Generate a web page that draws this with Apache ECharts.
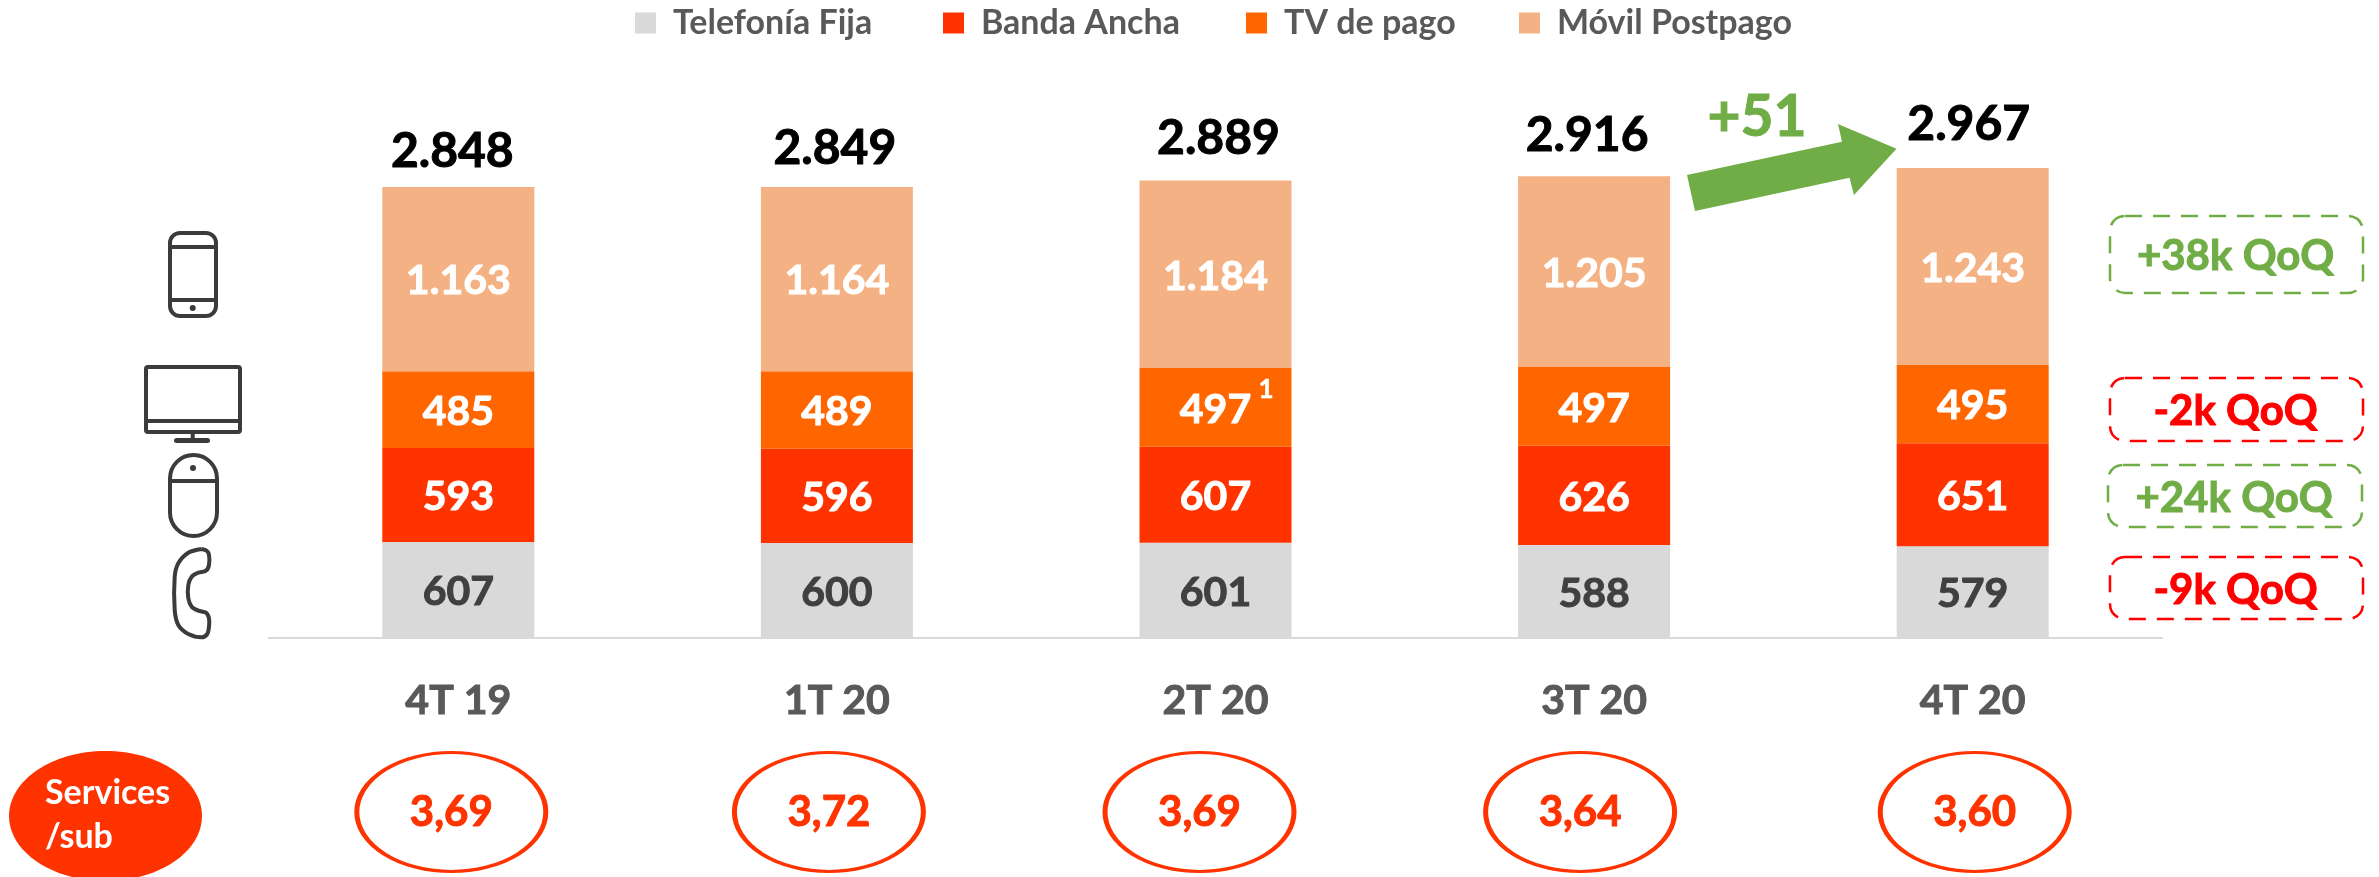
<!DOCTYPE html>
<html>
<head>
<meta charset="utf-8">
<style>
html, body { margin: 0; padding: 0; background: #fff; }
#main { width: 2379px; height: 877px; }
</style>
<script src="https://cdn.jsdelivr.net/npm/echarts@6/dist/echarts.min.js"></script>
</head>
<body>
<div id="main"></div>
<script>
var categories = ['4T 19', '1T 20', '2T 20', '3T 20', '4T 20'];
var legendNames = ['Telefonía Fija', 'Banda Ancha', 'TV de pago', 'Móvil Postpago'];
var fija = [607, 600, 601, 588, 579];
var banda = [593, 596, 607, 626, 651];
var tv = [485, 489, 497, 497, 495];
var movil = [1163, 1164, 1184, 1205, 1243];
var totals = [2848, 2849, 2889, 2916, 2967];
var servicesSub = [3.69, 3.72, 3.69, 3.64, 3.60];

// separador de miles con punto
function miles(v) {
    return String(v).replace(/\B(?=(\d{3})+$)/g, '.');
}

var font = 'Lato';
var iconColor = '#3b3b3b';
var green = '#70AD47';
var red = '#FF0000';
var orange = '#FF3300';
var legendLeft = [635, 943, 1246, 1519];
// desplazamiento de cada elipse respecto a su columna
var ellipseShift = [-7, -8, -16, -14, 2];
var totalOffset = [[-6, 2], [-2, 1], [3, 1], [-7, 1], [-4, 1]];
var totalLift = [13, 15, 19, 17, 20];

function barSeries(name, values, color, labelColor) {
    return {
        name: name,
        type: 'bar',
        stack: 'total',
        barWidth: 152,
        data: values,
        itemStyle: { color: color },
        label: {
            show: true,
            position: 'inside',
            offset: [0, 2],
            color: labelColor,
            textBorderColor: labelColor,
            textBorderWidth: 1,
            fontFamily: font,
            fontWeight: 'bold',
            fontSize: 41,
            formatter: function (p) { return miles(p.value); }
        },
        silent: true
    };
}

function qoqBox(x, y, w, h, text, color) {
    return [{
        type: 'rect',
        shape: { x: x, y: y, width: w, height: h, r: 15 },
        style: { fill: 'none', stroke: color, lineWidth: 2.5, lineDash: [17, 11] }
    }, {
        type: 'text',
        x: x + w / 2 - 1,
        y: y + h / 2 + 2,
        style: {
            text: text, fill: color, stroke: color, lineWidth: 1, font: 'bold 42px ' + font,
            textAlign: 'center', textVerticalAlign: 'middle'
        }
    }];
}

var icon = { fill: 'none', stroke: iconColor, lineWidth: 4 };
var iconFill = { fill: iconColor };
var graphics = [
    // movil
    { type: 'rect', shape: { x: 170, y: 233, width: 46, height: 83, r: 10 }, style: icon },
    { type: 'line', shape: { x1: 170, y1: 247, x2: 216, y2: 247 }, style: icon },
    { type: 'line', shape: { x1: 170, y1: 300, x2: 216, y2: 300 }, style: icon },
    { type: 'circle', shape: { cx: 192.7, cy: 308, r: 3 }, style: iconFill },
    // tele
    { type: 'rect', shape: { x: 146, y: 367, width: 94, height: 65, r: 2 }, style: icon },
    { type: 'line', shape: { x1: 146, y1: 421, x2: 240, y2: 421 }, style: icon },
    { type: 'line', shape: { x1: 192.7, y1: 432, x2: 192.7, y2: 440 }, style: icon },
    { type: 'rect', shape: { x: 174, y: 438, width: 36, height: 5, r: 2.5 }, style: iconFill },
    // raton
    { type: 'rect', shape: { x: 170, y: 455, width: 47, height: 81, r: 23.5 }, style: icon },
    { type: 'line', shape: { x1: 170, y1: 481, x2: 217, y2: 481 }, style: icon },
    { type: 'circle', shape: { cx: 193, cy: 468, r: 3 }, style: iconFill },
    // telefono
    {
        type: 'polyline',
        shape: {
            smooth: 0.3,
            points: [[201.7, 549], [188.3, 552.7], [178.3, 563.3], [174.7, 576.7], [174.7, 610], [178.3, 625],
                [188.3, 634], [201.7, 637.3], [207.3, 634], [209, 626.7], [209, 618.3], [206, 612.7], [198.3, 610.7],
                [191.7, 606.7], [188.3, 598.3], [188.3, 585], [191.7, 576.7], [198.3, 572.7], [206, 570.7],
                [209, 565], [209, 555], [206.7, 550.7], [201.7, 549]]
        },
        style: icon
    },
    // flecha +51
    {
        type: 'polygon',
        shape: { points: [[1687, 175], [1842, 141.7], [1838, 124], [1896.5, 148.7], [1854, 195], [1849.5, 177.7], [1695, 211]] },
        style: { fill: green }
    },
    {
        type: 'text', x: 1757, y: 118,
        style: { text: '+51', fill: green, stroke: green, lineWidth: 1, font: 'bold 57px ' + font, textAlign: 'center', textVerticalAlign: 'middle' }
    },
    // nota al pie del 497
    {
        type: 'text', x: 1266, y: 390, z: 100,
        style: { text: '1', fill: '#fff', stroke: '#fff', lineWidth: 0.5, font: 'bold 26px ' + font, textAlign: 'center', textVerticalAlign: 'middle' }
    },
    // Services/sub
    { type: 'ellipse', shape: { cx: 105.5, cy: 816, rx: 96.5, ry: 65 }, style: { fill: orange } },
    {
        type: 'text', x: 45, y: 793,
        style: { text: 'Services', fill: '#fff', font: 'bold 34px ' + font, textVerticalAlign: 'middle' }
    },
    {
        type: 'text', x: 45, y: 837,
        style: { text: '/sub', fill: '#fff', font: 'bold 34px ' + font, textVerticalAlign: 'middle' }
    }
].concat(
    qoqBox(2110, 216, 253, 77, '+38k QoQ', green),
    qoqBox(2110, 378, 253, 63, '-2k QoQ', red),
    qoqBox(2108, 465, 254, 62, '+24k QoQ', green),
    qoqBox(2110, 557, 253, 62, '-9k QoQ', red)
);

var myChart = echarts.init(document.getElementById('main'));
var option = {
    animation: false,
    backgroundColor: '#fff',
    // una leyenda por entrada para fijar cada posicion
    legend: legendNames.map(function (name, i) {
        return {
            left: legendLeft[i],
            top: 6,
            padding: 0,
            icon: 'rect',
            itemWidth: 21,
            itemHeight: 21,
            selectedMode: false,
            data: [name],
            textStyle: {
                color: '#595959', fontFamily: font, fontWeight: 'bold', fontSize: 34,
                padding: [0, 0, 0, 12]
            }
        };
    }),
    grid: [
        { left: 269, width: 1893, top: 163, height: 475 },
        { left: 269, width: 1893, top: 752, height: 120 }
    ],
    xAxis: [{
        type: 'category',
        gridIndex: 0,
        data: categories,
        axisTick: { show: false },
        axisLine: { lineStyle: { color: '#D9D9D9', width: 2 } },
        axisLabel: {
            interval: 0, margin: 42, color: '#595959',
            textBorderColor: '#595959', textBorderWidth: 1,
            fontFamily: font, fontWeight: 'bold', fontSize: 41
        }
    }, {
        type: 'category',
        gridIndex: 1,
        data: categories,
        show: false
    }],
    yAxis: [{
        type: 'value',
        gridIndex: 0,
        min: 0,
        max: 3000,
        show: false
    }, {
        type: 'category',
        gridIndex: 1,
        data: ['Services/sub'],
        show: false
    }],
    series: [
        barSeries(legendNames[0], fija, '#D9D9D9', '#404040'),
        barSeries(legendNames[1], banda, '#FF3300', '#fff'),
        barSeries(legendNames[2], tv, '#FF6600', '#fff'),
        barSeries(legendNames[3], movil, '#F4B183', '#fff'),
        {
            name: 'Total',
            type: 'scatter',
            symbolSize: 1,
            itemStyle: { color: 'transparent', opacity: 1 },
            data: totals.map(function (v, i) {
                return { value: [i, v], label: { distance: totalLift[i], offset: totalOffset[i] } };
            }),
            label: {
                show: true,
                position: 'top',
                color: '#000',
                textBorderColor: '#000',
                textBorderWidth: 1,
                fontFamily: font,
                fontWeight: 'bold',
                fontSize: 48,
                formatter: function (p) { return miles(p.value[1]); }
            },
            silent: true
        },
        {
            name: 'Services/sub',
            type: 'scatter',
            xAxisIndex: 1,
            yAxisIndex: 1,
            symbol: 'circle',
            symbolSize: [189, 119],
            itemStyle: { color: '#fff', borderColor: orange, borderWidth: 4, opacity: 1 },
            data: servicesSub.map(function (v, i) {
                return { value: [i, 0, v], symbolOffset: [ellipseShift[i], 0] };
            }),
            label: {
                show: true,
                position: 'inside',
                color: orange,
                textBorderColor: orange,
                textBorderWidth: 1,
                fontFamily: font,
                fontWeight: 'bold',
                fontSize: 42,
                formatter: function (p) { return p.value[2].toFixed(2).replace('.', ','); }
            },
            silent: true
        }
    ],
    graphic: { elements: graphics }
};
myChart.setOption(option);
</script>
</body>
</html>
